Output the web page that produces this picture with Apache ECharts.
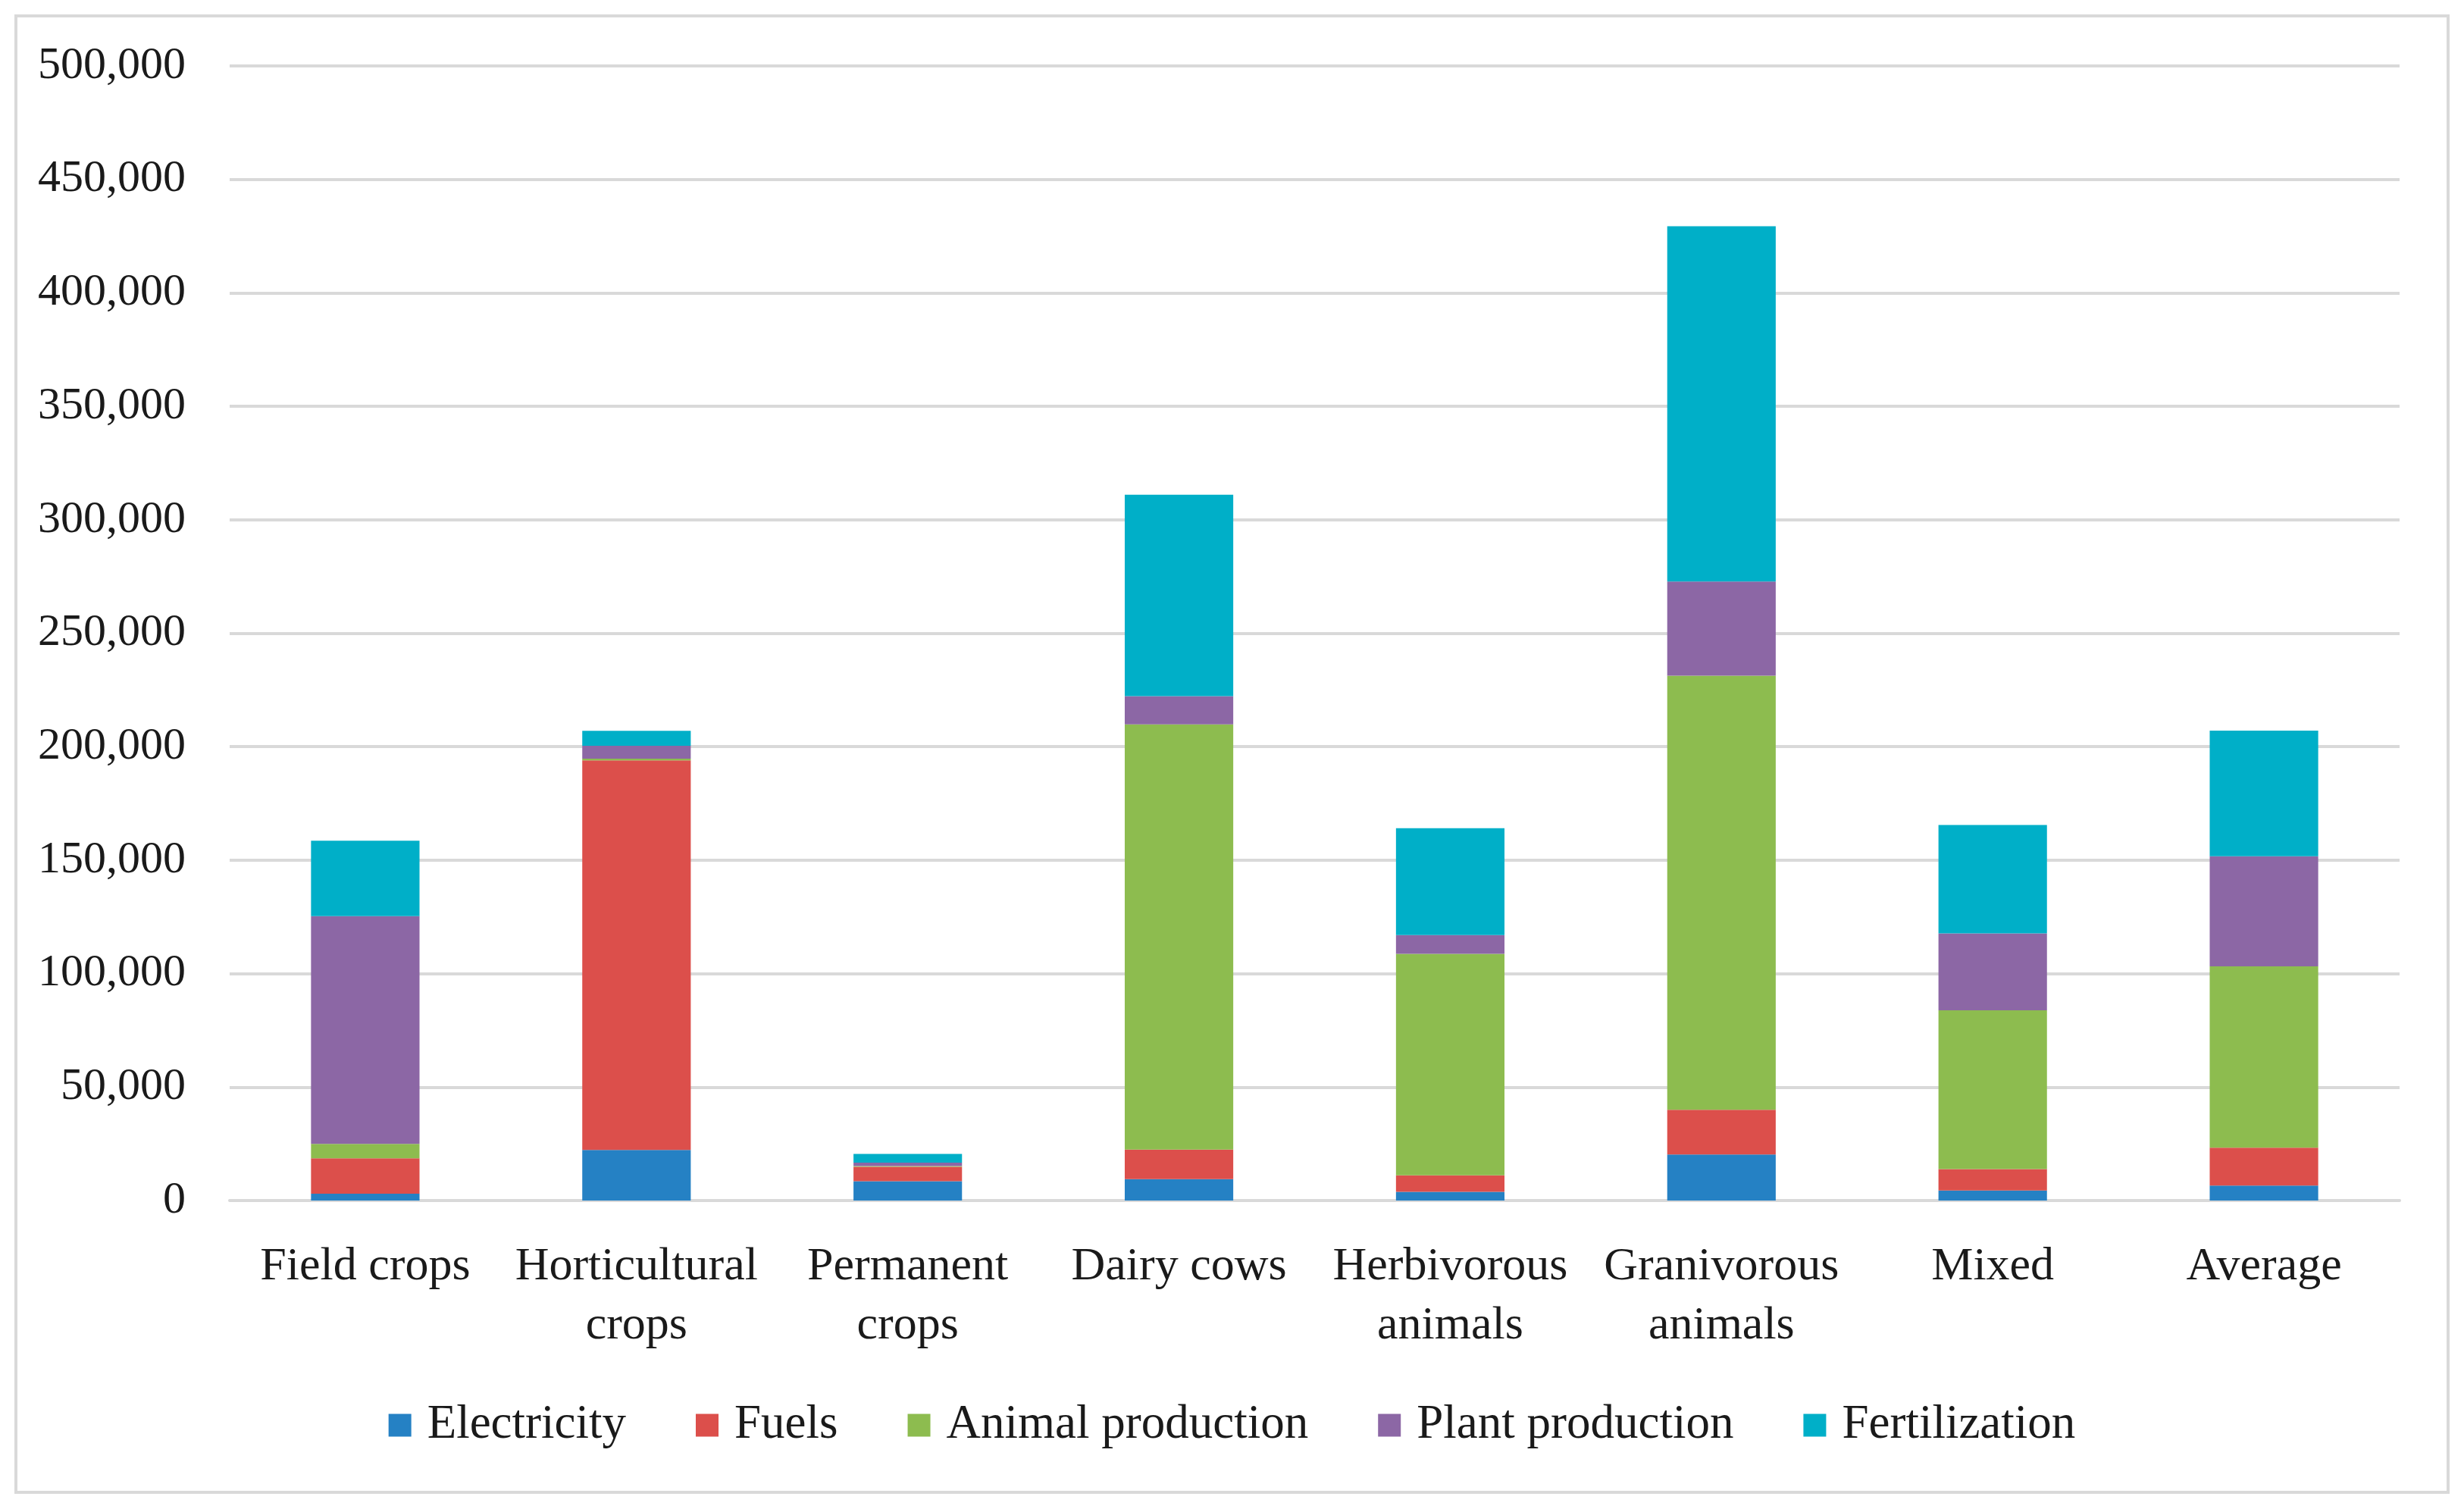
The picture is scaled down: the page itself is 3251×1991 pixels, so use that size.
<!DOCTYPE html>
<html>
<head>
<meta charset="utf-8">
<script src="https://cdn.jsdelivr.net/npm/echarts@6/dist/echarts.min.js"></script>
<style>
html,body{margin:0;padding:0;background:#fff;}
#main{width:3251px;height:1991px;}
</style>
</head>
<body>
<div id="main"></div>
<script>
const categories = ['Field crops', 'Horticultural\ncrops', 'Permanent\ncrops', 'Dairy cows', 'Herbivorous\nanimals', 'Granivorous\nanimals', 'Mixed', 'Average'];
const seriesNames = ['Electricity', 'Fuels', 'Animal production', 'Plant production', 'Fertilization'];
const electricity = [3000, 22300, 8500, 9400, 3800, 20300, 4400, 6600];
const fuels = [15600, 171700, 6400, 13100, 7300, 19700, 9500, 16700];
const animalProduction = [6400, 700, 300, 187300, 97600, 191300, 69900, 79900];
const plantProduction = [100300, 5700, 1500, 12500, 8300, 41500, 33900, 48500];
const fertilization = [33300, 6600, 3800, 88700, 47100, 156600, 47800, 55400];
const yTicks = [0, 50000, 100000, 150000, 200000, 250000, 300000, 350000, 400000, 450000, 500000];

const colors = ['#2581C4', '#DC4F4B', '#8DBC4F', '#8C67A5', '#00AFC8'];
const dataSets = [electricity, fuels, animalProduction, plantProduction, fertilization];
const FONT = '"Liberation Serif", "DejaVu Serif", serif';

const chart = echarts.init(document.getElementById('main'), null, {renderer: 'canvas'});
chart.setOption({
  animation: false,
  backgroundColor: '#ffffff',
  color: colors,
  graphic: [{
    type: 'rect',
    shape: {x: 21, y: 21, width: 3209, height: 1948},
    style: {fill: 'none', stroke: '#d9d9d9', lineWidth: 4},
    silent: true
  }],
  grid: {left: 303, right: 85, top: 87, bottom: 407, containLabel: false},
  legend: {
    data: seriesNames,
    top: 1844,
    left: 'center',
    icon: 'rect',
    itemWidth: 30,
    itemHeight: 30,
    itemGap: 92,
    textStyle: {fontFamily: FONT, fontSize: 63, color: '#1a1a1a', padding: [0, 0, 0, 16]}
  },
  xAxis: {
    type: 'category',
    data: categories,
    axisLine: {lineStyle: {color: '#d9d9d9', width: 4}},
    axisTick: {show: false},
    axisLabel: {fontFamily: FONT, fontSize: 62, color: '#1a1a1a', lineHeight: 78, margin: 49, interval: 0}
  },
  yAxis: {
    type: 'value',
    min: yTicks[0],
    max: yTicks[yTicks.length - 1],
    interval: yTicks[1] - yTicks[0],
    axisLine: {show: false},
    axisTick: {show: false},
    splitLine: {lineStyle: {color: '#d9d9d9', width: 4}},
    axisLabel: {
      fontFamily: FONT, fontSize: 60, color: '#1a1a1a', margin: 58,
      formatter: v => v.toLocaleString('en-US')
    }
  },
  series: seriesNames.map((n, i) => ({
    name: n,
    type: 'bar',
    stack: 'total',
    barWidth: '40%',
    data: dataSets[i],
    itemStyle: {color: colors[i]}
  }))
});
</script>
</body>
</html>
